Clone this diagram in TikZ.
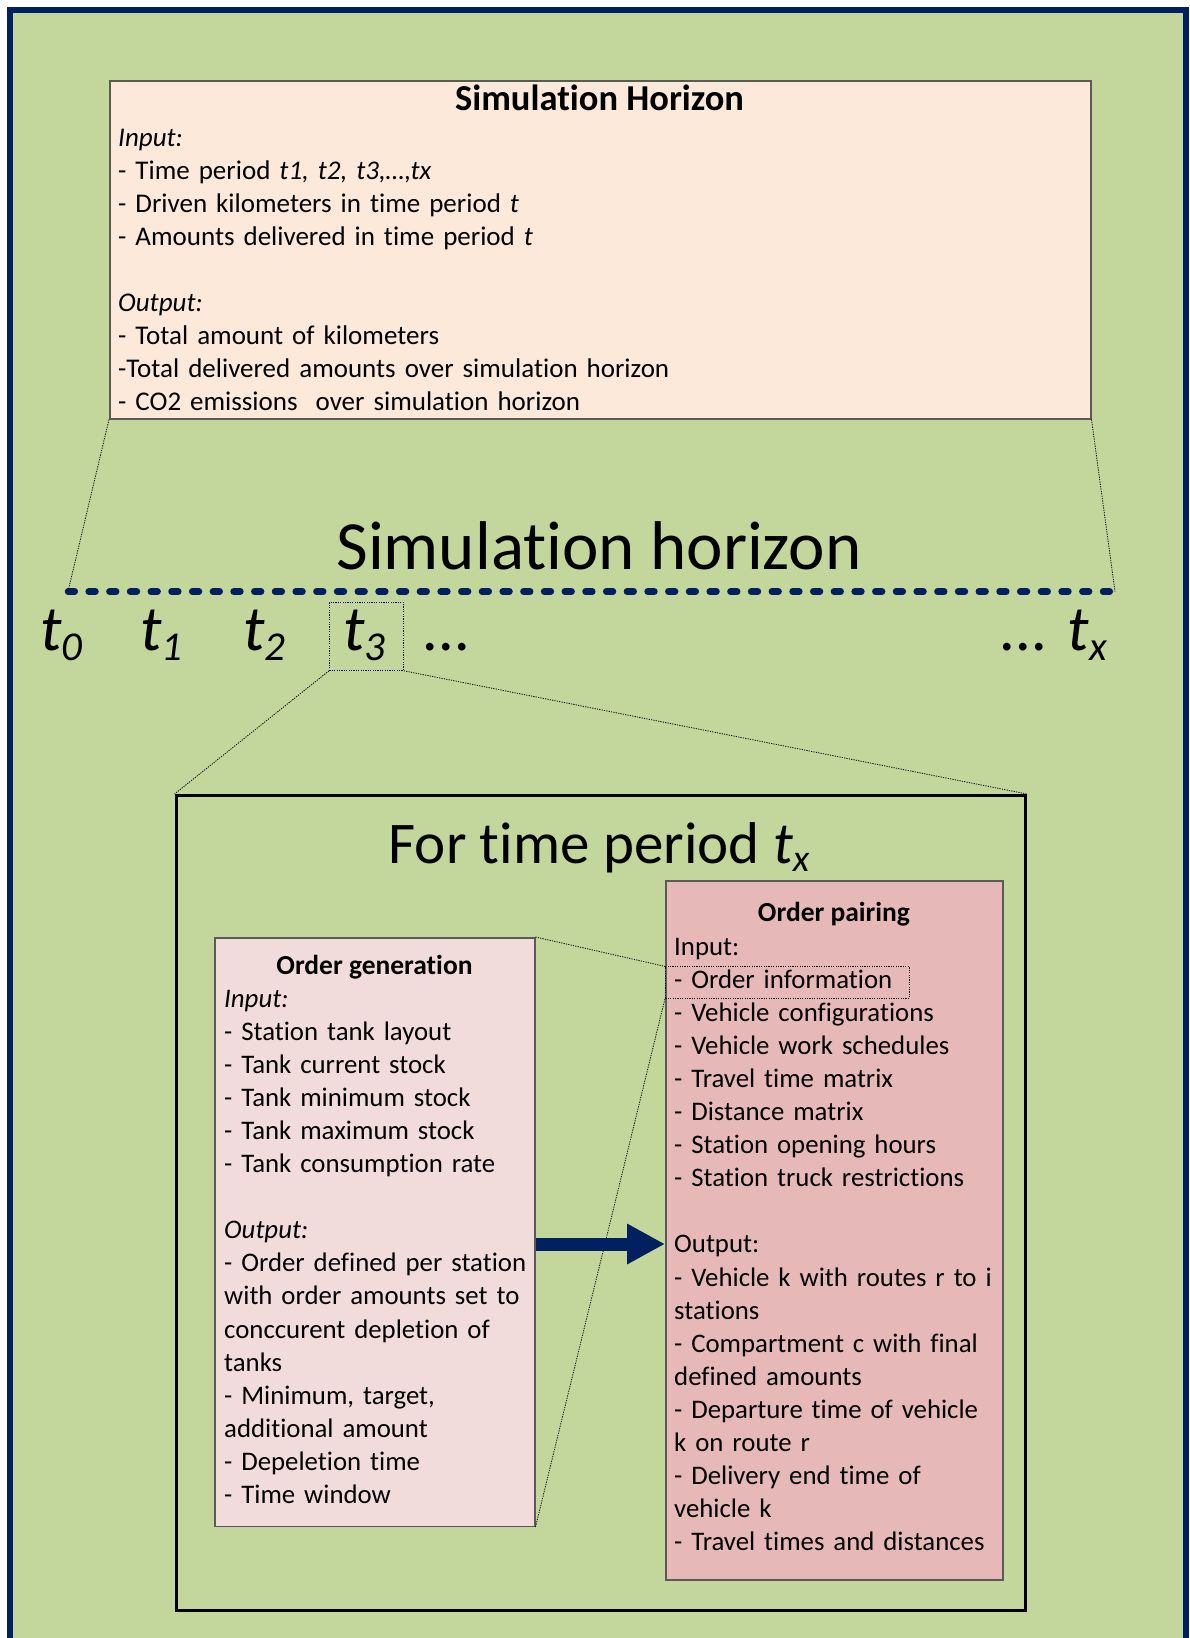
\documentclass[tikz,border=0pt]{standalone}
\usepackage{fontspec}
\setmainfont{Carlito}[Ligatures=NoCommon]
\usetikzlibrary{arrows.meta}
\definecolor{bggreen}{HTML}{C3D69B}
\definecolor{navy}{HTML}{002060}
\definecolor{peach}{HTML}{FDE9D9}
\definecolor{pinklight}{HTML}{F2DCDB}
\definecolor{pinkdark}{HTML}{E6B9B8}
\definecolor{boxgray}{HTML}{5A5A5A}
\newcommand\lowsub[3]{\raisebox{-#2pt}{\fontsize{#1}{#1}\selectfont\itshape #3}}
\begin{document}
\begin{tikzpicture}[x=1pt,y=-1pt,
  infobox/.style={draw=boxgray, line width=1.5pt, inner sep=0pt, anchor=north west},
  zoomline/.style={draw=black, line width=0.8pt, dash pattern=on 1.2pt off 1.2pt},
  bodytext/.style={anchor=base west, inner sep=0pt, align=left, text width=#1,
    font=\fontsize{26.8}{33.1}\selectfont},
  tophead/.style={anchor=base, inner sep=0pt, font=\fontsize{36.5}{36.5}\selectfont\bfseries},
  subhead/.style={anchor=base, inner sep=0pt, font=\fontsize{27.5}{27.5}\selectfont\bfseries},
  tlabel/.style={anchor=base west, inner sep=0pt, font=\fontsize{64}{64}\selectfont\itshape},
  timeline/.style={draw=navy, line width=6.5pt, line cap=round, dash pattern=on 6.8pt off 13.9pt},
  flowarrow/.style={draw=navy, line width=13pt, -{Triangle[length=38pt,width=38pt]}},
]
\clip (0,0) rectangle (1189,1638);
\fill[white] (0,0) rectangle (1189,1638);
\draw[draw=navy, fill=bggreen, line width=6pt] (10,10) rectangle (1186,1700);

% Simulation Horizon box
\node[infobox, fill=peach, minimum width=981, minimum height=338] (simbox) at (109,80) {};
\node[tophead] (simtitle) at (599.5,110.5) {Simulation Horizon};
\node[bodytext=940, font=\fontsize{27}{33}\selectfont] (simtxt) at (118,146) {%
\textit{Input:}\\
- Time period \textit{t1, t2, t3,…,tx}\\
- Driven kilometers in time period \textit{t}\\
- Amounts delivered in time period \textit{t}\\[33pt]
\textit{Output:}\\
- Total amount of kilometers\\
-Total delivered amounts over simulation horizon\\
- CO2 emissions\ \ over simulation horizon};

% timeline
\node[anchor=base, inner sep=0pt, font=\fontsize{69}{69}\selectfont] (hz) at (599,569) {Simulation horizon};
\coordinate (hl) at (68,591.5);
\coordinate (hr) at (1115,591.5);
\draw[timeline] (hl) -- (hr);
\draw[zoomline] (simbox.south west) -- (hl);
\draw[zoomline] (simbox.south east) -- (hr);

\node[tlabel] (t0) at (40,650) {t\lowsub{41}{10}{0}};
\node[tlabel] (t1) at (140,650) {t\lowsub{41}{10}{1}};
\node[tlabel] (t2) at (243,650) {t\lowsub{41}{10}{2}};
\node[tlabel] (t3) at (343,650) {t\lowsub{41}{10}{3}};
\node[tlabel] (dots) at (423,650) {...};
\node[tlabel] (tx) at (1000,650) {... t\lowsub{41}{10}{x}};
\node[zoomline, minimum width=74, minimum height=68, inner sep=0pt, anchor=north west] (t3box) at (329,602) {};

% For time period box
\node[draw=black, line width=3pt, minimum width=849.5, minimum height=815, inner sep=0pt, anchor=north west] (forbox) at (174.5,794) {};
\node[anchor=base, inner sep=0pt, font=\fontsize{59}{59}\selectfont] (fortitle) at (599,863) {For time period \textit{t}\lowsub{38}{8}{x}};
\draw[zoomline] (t3box.south west) -- (forbox.north west);
\draw[zoomline] (t3box.south east) -- (forbox.north east);

% Order generation
\node[infobox, fill=pinklight, minimum width=320, minimum height=588.5] (genbox) at (214,937) {};
\node[subhead] (gentitle) at (374.5,974.5) {Order generation};
\node[bodytext=330] (gentxt) at (224,1007) {%
\textit{Input:}\\
- Station tank layout\\
- Tank current stock\\
- Tank minimum stock\\
- Tank maximum stock\\
- Tank consumption rate\\[33.1pt]
\textit{Output:}\\
- Order defined per station\\
with order amounts set to\\
conccurent depletion of\\
tanks\\
- Minimum, target,\\
additional amount\\
- Depeletion time\\
- Time window};

% Order pairing
\node[infobox, fill=pinkdark, minimum width=337, minimum height=699] (pairbox) at (665,880) {};
\node[subhead] (pairtitle) at (834,921.5) {Order pairing};
\node[bodytext=360] (pairtxt) at (674,955) {%
Input:\\
- Order information\\
- Vehicle configurations\\
- Vehicle work schedules\\
- Travel time matrix\\
- Distance matrix\\
- Station opening hours\\
- Station truck restrictions\\[33.1pt]
Output:\\
- Vehicle k with routes r to i\\
stations\\
- Compartment c with final\\
defined amounts\\
- Departure time of vehicle\\
k on route r\\
- Delivery end time of\\
vehicle k\\
- Travel times and distances};
\node[zoomline, minimum width=244, minimum height=31.4, inner sep=0pt, anchor=north west] (oibox) at (665,966.4) {};
\draw[zoomline] (genbox.north east) -- (oibox.north west);
\draw[zoomline] (genbox.south east) -- (oibox.south west);

% arrow
\coordinate (arrowlevel) at (600,1244);
\draw[flowarrow] (genbox.east |- arrowlevel) -- (pairbox.west |- arrowlevel);
\end{tikzpicture}
\end{document}
